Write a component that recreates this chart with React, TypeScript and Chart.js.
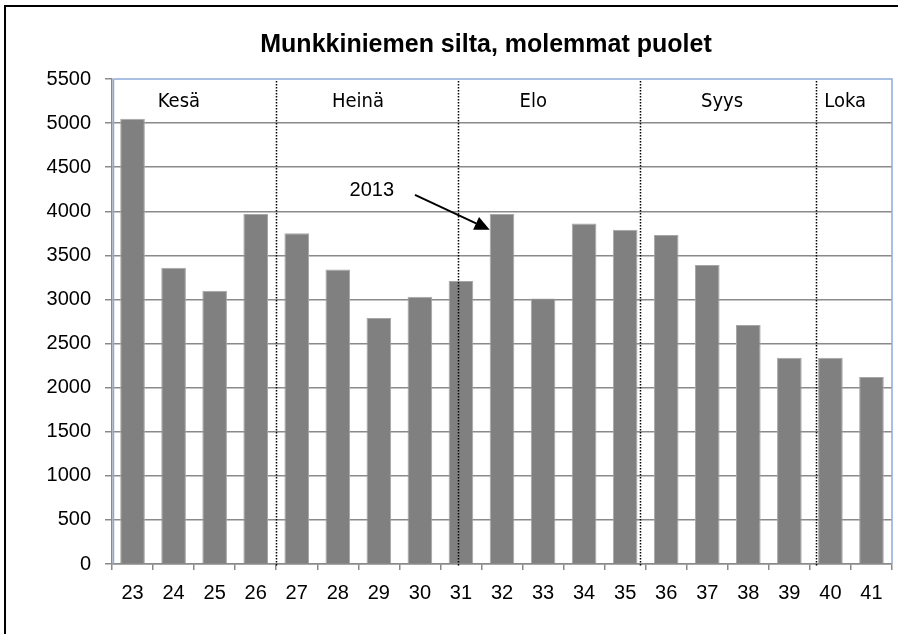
import React, { useEffect, useRef } from "react";
import { Chart, registerables } from "chart.js";

Chart.register(...registerables);

const weeks = ["23", "24", "25", "26", "27", "28", "29", "30", "31", "32", "33", "34", "35", "36", "37", "38", "39", "40", "41"];
const counts = [5050, 3360, 3100, 3970, 3750, 3340, 2790, 3030, 3210, 3970, 3010, 3860, 3790, 3730, 3390, 2710, 2340, 2340, 2120];
const yTicks = [0, 500, 1000, 1500, 2000, 2500, 3000, 3500, 4000, 4500, 5000, 5500];
const monthNames = ["Kesä", "Heinä", "Elo", "Syys", "Loka"];
// month boundaries, in week-index units (fraction of the week where the new month starts)
const monthBoundaries = [3.5, 7.93, 12.36, 16.64];
// where the month names sit, in week-index units
const monthLabelAt = [1.13, 5.49, 9.76, 14.36, 17.36];
const chartTitle = "Munkkiniemen silta, molemmat puolet";
const noteText = "2013";
const noteAt = { x: 5.83, y: 4240 };
const arrowFrom = { x: 6.88, y: 4185 };
const arrowTo = { x: 8.7, y: 3790 };

const SANS = '"Liberation Sans", Arial, sans-serif';
const TAHOMA = '"DejaVu Sans Condensed", "Noto Sans", sans-serif';

const decorPlugin = {
  id: "decor",
  beforeDraw(chart: any) {
    const ctx = chart.ctx;
    ctx.save();
    ctx.fillStyle = "#ffffff";
    ctx.fillRect(0, 0, chart.width, chart.height);
    ctx.strokeStyle = "#000000";
    ctx.lineWidth = 2;
    ctx.beginPath();
    ctx.moveTo(5, chart.height);
    ctx.lineTo(5, 6);
    ctx.lineTo(chart.width, 6);
    ctx.stroke();
    ctx.restore();
  },
  afterDraw(chart: any) {
    const ctx = chart.ctx;
    const { left, right, top, bottom } = chart.chartArea;
    const xs = chart.scales.x;
    const ys = chart.scales.y;
    ctx.save();
    // plot border top & right
    ctx.strokeStyle = "#8eaadb";
    ctx.lineWidth = 1.5;
    ctx.beginPath();
    ctx.moveTo(left + 1.5, top);
    ctx.lineTo(right, top);
    ctx.lineTo(right, bottom);
    ctx.stroke();
    ctx.beginPath();
    ctx.moveTo(left + 1.5, top);
    ctx.lineTo(left + 1.5, bottom);
    ctx.stroke();

    // month boundaries
    ctx.strokeStyle = "#000000";
    ctx.lineWidth = 1.5;
    ctx.setLineDash([1.5, 1.5]);
    monthBoundaries.forEach((b) => {
      const x = Math.round(xs.getPixelForValue(b)) + 0.5;
      ctx.beginPath();
      ctx.moveTo(x, top + 2);
      ctx.lineTo(x, bottom + 3);
      ctx.stroke();
    });
    ctx.setLineDash([]);

    // month names
    ctx.fillStyle = "#000000";
    ctx.font = "20px " + TAHOMA;
    ctx.textAlign = "center";
    ctx.textBaseline = "middle";
    monthNames.forEach((m, i) => {
      ctx.fillText(m, xs.getPixelForValue(monthLabelAt[i]), (top + ys.getPixelForValue(5000)) / 2 + 1);
    });

    // title
    ctx.font = "bold 25px " + SANS;
    ctx.fillText(chartTitle, 486, 45);

    // note + arrow
    ctx.font = "20px " + SANS;
    ctx.fillText(noteText, xs.getPixelForValue(noteAt.x), ys.getPixelForValue(noteAt.y));
    const x1 = xs.getPixelForValue(arrowFrom.x);
    const y1 = ys.getPixelForValue(arrowFrom.y);
    const x2 = xs.getPixelForValue(arrowTo.x);
    const y2 = ys.getPixelForValue(arrowTo.y);
    const ang = Math.atan2(y2 - y1, x2 - x1);
    const hl = 15;
    const hw = 7;
    const bx = x2 - hl * Math.cos(ang);
    const by = y2 - hl * Math.sin(ang);
    ctx.strokeStyle = "#000000";
    ctx.lineWidth = 2;
    ctx.beginPath();
    ctx.moveTo(x1, y1);
    ctx.lineTo(bx, by);
    ctx.stroke();
    ctx.beginPath();
    ctx.moveTo(x2, y2);
    ctx.lineTo(bx + hw * Math.sin(ang), by - hw * Math.cos(ang));
    ctx.lineTo(bx - hw * Math.sin(ang), by + hw * Math.cos(ang));
    ctx.closePath();
    ctx.fill();
    ctx.restore();
  },
};

export default function App() {
  const ref = useRef<HTMLCanvasElement | null>(null);
  useEffect(() => {
    if (!ref.current) return;
    const chart = new Chart(ref.current, {
      type: "bar",
      data: {
        labels: weeks,
        datasets: [
          {
            data: counts,
            backgroundColor: "#808080",
            borderColor: "#a6a6a6",
            borderWidth: 1,
            barPercentage: 0.6,
            categoryPercentage: 1,
          },
        ],
      },
      options: {
        animation: false,
        responsive: false,
        maintainAspectRatio: false,
        layout: { padding: { left: 0, right: 6, top: 79, bottom: 0 } },
        plugins: { legend: { display: false }, tooltip: { enabled: false }, title: { display: false } },
        scales: {
          x: {
            afterFit: (s: any) => {
              s.height = 70;
            },
            grid: {
              offset: true,
              drawOnChartArea: false,
              drawTicks: true,
              tickLength: 6,
              color: "#8a8a8a",
              lineWidth: 1.5,
            },
            border: { display: true, color: "#8a8a8a", width: 1.5 },
            ticks: { color: "#000000", font: { family: SANS, size: 20 }, padding: 11, maxRotation: 0 },
          },
          y: {
            min: 0,
            max: 5500,
            afterFit: (s: any) => {
              s.width = 112;
            },
            afterBuildTicks: (s: any) => {
              s.ticks = yTicks.map((v) => ({ value: v }));
            },
            grid: {
              drawTicks: true,
              tickLength: 7,
              color: (c: any) => (c.tick && c.tick.value === 5500 ? "rgba(0,0,0,0)" : "#8a8a8a"),
              tickColor: "#8a8a8a",
              lineWidth: 1.5,
            },
            border: { display: true, color: "#8a8a8a", width: 1.5 },
            ticks: {
              color: "#000000",
              font: { family: SANS, size: 20 },
              padding: 14,
              callback: (v: any) => String(v),
            },
          },
        },
      },
      plugins: [decorPlugin],
    });
    return () => chart.destroy();
  }, []);
  return (
    <div style={{ position: "absolute", left: 0, top: 0, width: 898, height: 634 }}>
      <canvas ref={ref} width={898} height={634} style={{ width: 898, height: 634, display: "block" }} />
    </div>
  );
}
